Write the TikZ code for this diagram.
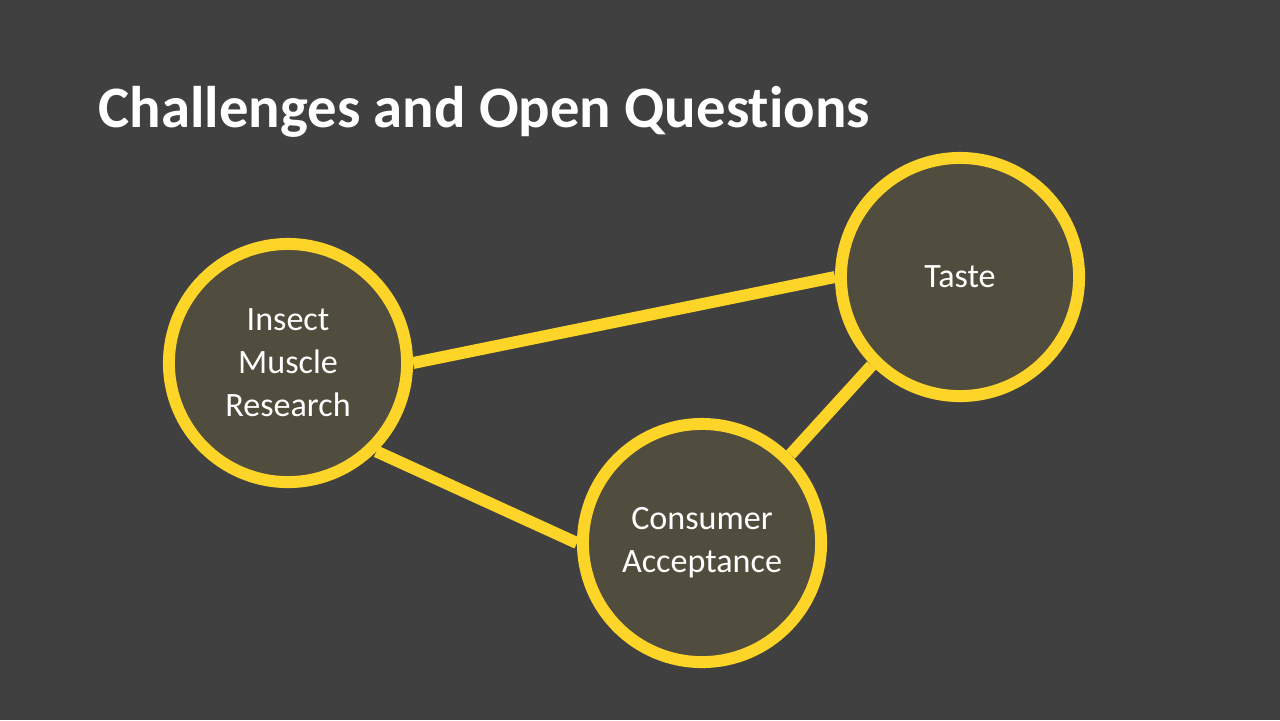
\documentclass[tikz,border=0pt]{standalone}
\usepackage{fontspec}
\setmainfont{Carlito}[RawFeature=-liga]
\usepackage{tikz}
\usetikzlibrary{positioning}

\definecolor{slidebg}{RGB}{64,64,64}
\definecolor{bubblefill}{RGB}{80,77,62}
\definecolor{ringyellow}{RGB}{253,212,40}

\pgfdeclarelayer{backdrop}
\pgfdeclarelayer{links}
\pgfsetlayers{backdrop,links,main}

\begin{document}
\begin{tikzpicture}[
    x=0.01cm, y=-0.01cm,
    bubble/.style={circle, draw=ringyellow, fill=bubblefill, line width=3.4pt, minimum size=2.38cm, inner sep=0pt, align=center, text=white, font=\fontsize{9.7}{12.2}\selectfont},
    link/.style={draw=ringyellow, line width=3.4pt}
]
\begin{pgfonlayer}{backdrop}
\fill[slidebg] (0,0) rectangle (1280,720);
\end{pgfonlayer}
\useasboundingbox (0,0) rectangle (1280,720);

\node[anchor=base west, text=white, font=\fontsize{16.7}{20}\selectfont\bfseries, inner sep=0pt] (title) at (98,127) {Challenges and Open Questions};

\node[bubble] (insect) at (288,363) {Insect\\Muscle\\Research};
\node[bubble] (taste) at (960,277) {Taste};
\node[bubble] (consumer) at (702,543) {Consumer\\Acceptance};

\begin{pgfonlayer}{links}
\draw[link] (insect.east) -- (taste.west);
\draw[link] (insect.south east) -- (consumer.west);
\draw[link] (consumer.north east) -- (taste.south west);
\end{pgfonlayer}
\end{tikzpicture}
\end{document}
